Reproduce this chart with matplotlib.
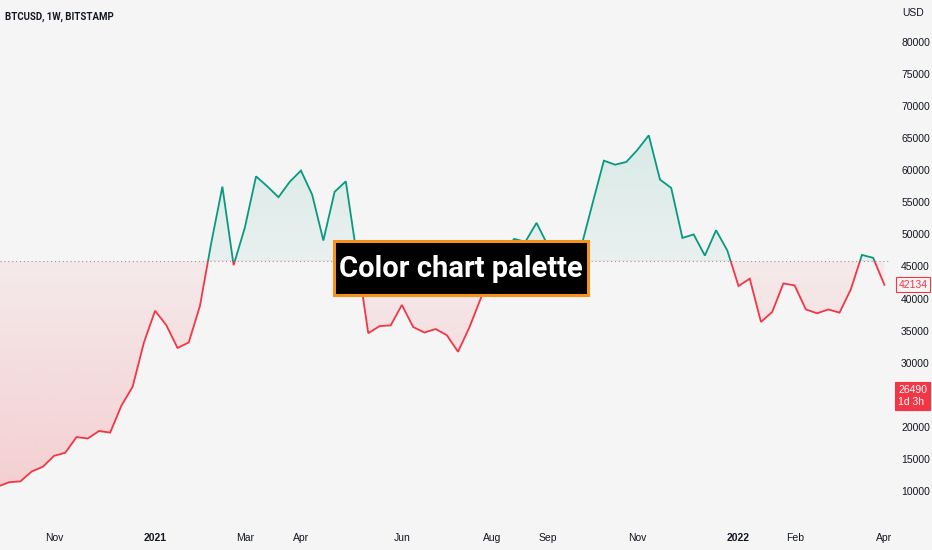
import numpy as np
import matplotlib
matplotlib.use("Agg")
import matplotlib.pyplot as plt
from matplotlib.patches import Rectangle
import pandas as pd

# ---------------- data ----------------
week_start = pd.date_range("2020-09-28", periods=80, freq="7D")
closes = [10700, 11370, 11500, 13030, 13780, 15480, 15960, 18400, 18180, 19350,
          19100, 23300, 26250, 33100, 38100, 35850, 32300, 33150, 38850, 48600,
          57450, 45200, 51050, 59050, 57500, 55800, 58200, 59950, 56200, 49050,
          56630, 58280, 46500, 34600, 35700, 35820, 39000, 35570, 34700, 35250,
          34300, 31700, 35450, 39900, 44600, 47000, 49300, 48850, 51800, 48300,
          47300, 42700, 48200, 54900, 61500, 60870, 61300, 63200, 65450, 58550,
          57250, 49450, 50000, 46700, 50650, 47500, 41950, 43100, 36350, 37900,
          42350, 42050, 38300, 37700, 38300, 37800, 41400, 46800, 46350, 42134]
baseline = 45800
tick_dates = ["2020-11-02", "2021-01-04", "2021-03-01", "2021-04-05", "2021-06-07",
              "2021-08-02", "2021-09-06", "2021-11-01", "2022-01-03", "2022-02-07",
              "2022-04-04"]
tick_labels = ["Nov", "2021", "Mar", "Apr", "Jun", "Aug", "Sep", "Nov", "2022", "Feb", "Apr"]
bold_ticks = ["2021", "2022"]
price_ticks = [10000, 15000, 20000, 30000, 35000, 40000, 45000,
               50000, 55000, 60000, 65000, 70000, 75000, 80000]
last_price = 42134
extra_label = "26490"
extra_value = 26490
extra_sub = "1d 3h"
title = "BTCUSD, 1W, BITSTAMP"
banner = "Color chart palette"

# ---------------- style ----------------
BG = "#f5f5f5"
GREEN = "#089981"
RED = "#f23645"
TXT = "#131722"

fig = plt.figure(figsize=(9.32, 5.5), dpi=100, facecolor=BG)
ax = fig.add_axes([0, 25 / 550, 890 / 932, 525 / 550])
ax.set_facecolor(BG)

x = np.arange(len(closes))
y = np.array(closes, dtype=float)
xmin, xmax = 0.18, 79.5
ymin_l, ymax_l = 4695, 86548

# gradient fills
poly = ax.fill_between(x, y, baseline, facecolor="none", edgecolor="none")
clip = poly.get_paths()[0]

def grad_img(rgb_hex, a_bottom, a_top):
    rgb = matplotlib.colors.to_rgb(rgb_hex)
    t = np.linspace(0, 1, 256)
    img = np.zeros((256, 1, 4))
    img[:, 0, 0:3] = rgb
    img[:, 0, 3] = a_bottom + (a_top - a_bottom) * t
    return img

im_g = ax.imshow(grad_img(GREEN, 0.05, 0.12), extent=[xmin, xmax, baseline, y.max()],
                 origin="lower", aspect="auto", interpolation="bilinear", zorder=1)
im_g.set_clip_path(clip, transform=ax.transData)
im_r = ax.imshow(grad_img(RED, 0.2, 0.06), extent=[xmin, xmax, y.min(), baseline],
                 origin="lower", aspect="auto", interpolation="bilinear", zorder=1)
im_r.set_clip_path(clip, transform=ax.transData)

# baseline
ax.axhline(baseline, color="#9598a1", lw=0.8, ls=(0, (1, 2.5)), zorder=2)

# two-coloured line
lg, = ax.plot(x, y, color=GREEN, lw=1.3, zorder=3, solid_joinstyle="miter")
lr, = ax.plot(x, y, color=RED, lw=1.3, zorder=3, solid_joinstyle="miter")
rg = Rectangle((-10, baseline), 200, 1e6, transform=ax.transData)
rr = Rectangle((-10, baseline - 1e6), 200, 1e6, transform=ax.transData)
lg.set_clip_path(rg)
lr.set_clip_path(rr)

ax.set_xlim(xmin, xmax)
ax.set_ylim(ymin_l, ymax_l)

for s in ax.spines.values():
    s.set_visible(False)

# x ticks
date_index = {d.strftime("%Y-%m-%d"): i for i, d in enumerate(week_start)}
ax.set_xticks([date_index[d] for d in tick_dates])
ax.set_xticklabels(tick_labels)
for lab in ax.get_xticklabels():
    lab.set_fontsize(7.5)
    lab.set_color(TXT)
    lab.set_family("Liberation Sans")
    if lab.get_text() in bold_ticks:
        lab.set_fontweight("bold")
ax.tick_params(axis="x", length=0, pad=6)

# y ticks right
ax.yaxis.tick_right()
ax.set_yticks(price_ticks)
ax.set_yticklabels([str(v) for v in price_ticks])
ax.tick_params(axis="y", length=0, pad=8, labelsize=7.5, labelcolor=TXT)
for lab in ax.get_yticklabels():
    lab.set_family("Liberation Sans")

ax.text(1.0 + 12 / 890, 1 - 13 / 525, "USD", transform=ax.transAxes, fontsize=7.5,
        color=TXT, family="Liberation Sans", va="center", ha="left", clip_on=False)

# price labels
ax.annotate(str(last_price), xy=(1, last_price), xycoords=("axes fraction", "data"),
            xytext=(6, 0), textcoords="offset points", fontsize=7.5, color=RED,
            family="Liberation Sans", va="center", ha="left", annotation_clip=False,
            bbox=dict(boxstyle="square,pad=0.25", fc=BG, ec=RED, lw=0.8), zorder=10)
ax.annotate(extra_label + "\n" + extra_sub, xy=(1, extra_value), xycoords=("axes fraction", "data"),
            xytext=(6, -8), textcoords="offset points", fontsize=7.5, color="white",
            family="Liberation Sans", va="center", ha="left", annotation_clip=False,
            linespacing=1.25,
            bbox=dict(boxstyle="square,pad=0.3", fc=RED, ec=RED, lw=0.8), zorder=10)

# title
fig.text(5 / 932, 1 - 17 / 550, title, fontsize=6.9, fontweight="bold", color=TXT,
         family=["Roboto", "DejaVu Sans"], va="center", ha="left")

# banner
fig.patches.append(Rectangle((334 / 932, 1 - 295 / 550), 254 / 932, 54 / 550,
                             transform=fig.transFigure, facecolor="black",
                             edgecolor="#f5921b", lw=2.2, zorder=19))
fig.text(461 / 932, 1 - 269 / 550, banner, fontsize=21, fontweight="bold", color="white",
         family=["Roboto", "DejaVu Sans"], va="center", ha="center",
         zorder=20)

fig.savefig("out.png", dpi=100, facecolor=BG)
